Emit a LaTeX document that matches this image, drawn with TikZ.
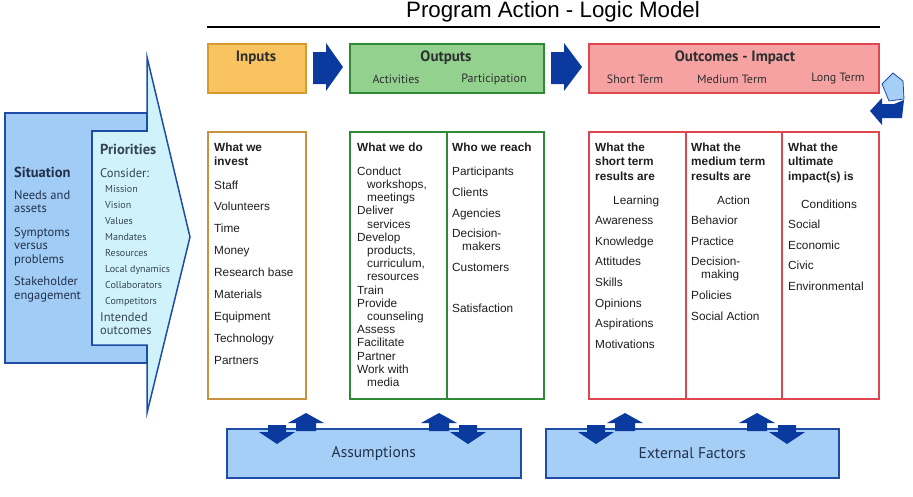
\documentclass[tikz,border=0pt]{standalone}
\usepackage{fontspec}
\setmainfont{Liberation Sans}
\newfontfamily\hdfont{PT Sans}
\usetikzlibrary{positioning}
\definecolor{inputfill}{HTML}{F9C460}
\definecolor{inputedge}{HTML}{D69A30}
\definecolor{investedge}{HTML}{C9923C}
\definecolor{outfill}{HTML}{93D18F}
\definecolor{outedge}{HTML}{2F8A36}
\definecolor{outcfill}{HTML}{F6A1A2}
\definecolor{outcedge}{HTML}{DE4650}
\definecolor{arrowblue}{HTML}{0B3A9E}
\definecolor{effill}{HTML}{A6CFF7}
\definecolor{efedge}{HTML}{1F4CA6}
\definecolor{sitfill}{HTML}{A0CCF5}
\definecolor{prifill}{HTML}{D0F3FB}
\definecolor{hdrtext}{HTML}{2E3030}
\definecolor{sittext}{HTML}{22324A}
\definecolor{pritext}{HTML}{34454F}
\definecolor{itemtext}{HTML}{1E1E1E}

\begin{document}
\begin{tikzpicture}[x=1pt, y=-1pt,
    hdrbox/.style={rectangle, line width=1.6pt, anchor=north west, inner sep=0pt,
        minimum height=49pt},
    colbox/.style={rectangle, draw, line width=1.5pt, anchor=north west, inner sep=0pt,
        minimum height=267pt},
    hdrlbl/.style={font=\hdfont\bfseries\fontsize{15}{17}\selectfont, text=hdrtext},
    sublbl/.style={font=\hdfont\fontsize{12}{14}\selectfont, text=hdrtext},
    items/.style={anchor=north west, align=left, inner sep=0pt, text=itemtext},
    onelbl/.style={anchor=base west, inner sep=0pt},
    effbox/.style={rectangle, draw=efedge, fill=effill, line width=1.6pt, anchor=north west,
        inner sep=0pt, minimum height=49pt, font=\hdfont\fontsize{15.5}{17}\selectfont, text=sittext},
    bigarr/.style={fill=arrowblue}
]
    \useasboundingbox (0,0) rectangle (913,496);

    % title
    \node[font=\fontsize{22.3}{26}\selectfont] (title) at (553,12) {Program Action - Logic Model};
    \draw[line width=2.5pt] (207,27) -- (880,27);

    % situation / priorities arrow
    \filldraw[fill=sitfill, draw=efedge, line width=1.5pt, line join=miter]
        (5,113) -- (147,113) -- (147,131) -- (92,131) -- (92,345) -- (147,345)
        -- (147,363) -- (5,363) -- cycle;
    \filldraw[fill=prifill, draw=efedge, line width=1.5pt, line join=miter]
        (92,131) -- (147,131) -- (147,57) -- (190,237) -- (147,413) -- (147,345)
        -- (92,345) -- cycle;

    \node[onelbl, font=\hdfont\bfseries\fontsize{14.5}{16}\selectfont, text=sittext] (sitlbl) at (14,177) {Situation};
    \node[items, font=\hdfont\fontsize{12.5}{13.5}\selectfont, text=sittext] (sitlist) at (14,190)
        {Needs and\\assets\\[10pt]Symptoms\\versus\\problems\\[9pt]Stakeholder\\engagement};
    \node[onelbl, font=\hdfont\bfseries\fontsize{14.5}{16}\selectfont, text=pritext] (prilbl) at (100,154) {Priorities};
    \node[onelbl, font=\hdfont\fontsize{12.5}{14}\selectfont, text=pritext] (consider) at (100,177) {Consider:};
    \node[items, font=\hdfont\fontsize{10}{16}\selectfont, text=pritext] (prilist) at (105,185)
        {Mission\\Vision\\Values\\Mandates\\Resources\\Local dynamics\\Collaborators\\Competitors};
    \node[items, font=\hdfont\fontsize{12.5}{12.5}\selectfont, text=pritext] (intended) at (100,313)
        {Intended\\outcomes};

    % header boxes
    \node[hdrbox, draw=inputedge, fill=inputfill, minimum width=98pt] (inputs) at (207,43) {};
    \node[hdrbox, draw=outedge, fill=outfill, minimum width=194pt] (outputs) at (349,43) {};
    \node[hdrbox, draw=outcedge, fill=outcfill, minimum width=290pt] (outcomes) at (588,43) {};

    \node[hdrlbl] (inputslbl) at (256,58) {Inputs};
    \node[hdrlbl] (outputslbl) at (446,58) {Outputs};
    \node[sublbl] (activ) at (396,79) {Activities};
    \node[sublbl] (partic) at (494,79) {Participation};
    \node[hdrlbl] (outcomeslbl) at (735,58) {Outcomes - Impact};
    \node[sublbl] (shortt) at (635,79) {Short Term};
    \node[sublbl] (mediumt) at (732,79) {Medium Term};
    \node[sublbl] (longt) at (838,79) {Long Term};

    % block arrows between headers
    \fill[bigarr] (313,52) -- (326,52) -- (326,43) -- (343,67) -- (326,91) -- (326,84) -- (313,84) -- cycle;
    \fill[bigarr] (551,52) -- (564,52) -- (564,43) -- (582,67) -- (564,91) -- (564,84) -- (551,84) -- cycle;

    % turn arrow at the right
    \filldraw[fill=effill, draw=efedge, line width=0.8pt] (882,84) -- (893,73) -- (903,81) -- (904,99) -- (889,101) -- cycle;
    \fill[bigarr] (904,100) -- (902,118) -- (882,118) -- (882,125) -- (870,111) -- (882,98) -- (882,104) -- (894,104) -- cycle;

    % columns
    \node[colbox, draw=investedge, minimum width=98pt] (investcol) at (207,131) {};
    \node[colbox, draw=outedge, minimum width=97pt] (docol) at (349,131) {};
    \node[colbox, draw=outedge, minimum width=97pt] (reachcol) at (446,131) {};
    \node[colbox, draw=outcedge, minimum width=97pt] (shortcol) at (588,131) {};
    \node[colbox, draw=outcedge, minimum width=96pt] (mediumcol) at (685,131) {};
    \node[colbox, draw=outcedge, minimum width=97pt] (longcol) at (781,131) {};

    \node[items, font=\fontsize{11.8}{21.9}\selectfont] (investlist) at (214,142.5)
        {\textbf{What we}\\[-8pt]\textbf{invest}\\[2pt]Staff\\Volunteers\\Time\\Money\\Research base\\Materials\\Equipment\\Technology\\Partners};
    \node[items, font=\fontsize{11.8}{13.2}\selectfont] (dolist) at (357,142.5)
        {\textbf{What we do}\\[10.8pt]Conduct\\\hspace*{10pt}workshops,\\\hspace*{10pt}meetings\\Deliver\\\hspace*{10pt}services\\Develop\\\hspace*{10pt}products,\\\hspace*{10pt}curriculum,\\\hspace*{10pt}resources\\Train\\Provide\\\hspace*{10pt}counseling\\Assess\\Facilitate\\Partner\\Work with\\\hspace*{10pt}media};
    \node[items, font=\fontsize{11.8}{13}\selectfont] (reachlist) at (452,142.5)
        {\textbf{Who we reach}\\[11pt]Participants\\[8pt]Clients\\[8pt]Agencies\\[7pt]Decision-\\\hspace*{10pt}makers\\[8pt]Customers\\[28pt]Satisfaction};
    \node[items, font=\fontsize{11.8}{20.6}\selectfont] (shortlist) at (595,142.5)
        {\textbf{What the}\\[-6pt]\textbf{short term}\\[-6pt]\textbf{results are}\\[3pt]\hspace*{18pt}Learning\\Awareness\\Knowledge\\Attitudes\\Skills\\Opinions\\Aspirations\\Motivations};
    \node[items, font=\fontsize{11.8}{20.6}\selectfont] (mediumlist) at (691,142.5)
        {\textbf{What the}\\[-6pt]\textbf{medium term}\\[-6pt]\textbf{results are}\\[3pt]\hspace*{26pt}Action\\Behavior\\Practice\\Decision-\\[-7.6pt]\hspace*{10pt}making\\Policies\\Social Action};
    \node[items, font=\fontsize{11.8}{20.6}\selectfont] (longlist) at (788,142.5)
        {\textbf{What the}\\[-6pt]\textbf{ultimate}\\[-6pt]\textbf{impact(s) is}\\[7pt]\hspace*{13pt}Conditions\\Social\\Economic\\Civic\\Environmental};

    % assumptions and external factors
    \node[effbox, minimum width=294pt] (assume) at (226,428) {Assumptions};
    \node[effbox, minimum width=293pt] (extern) at (545,428) {External Factors};

    \fill[bigarr] (296,431) -- (296,423) -- (288,423) -- (306,413) -- (324,423) -- (316,423) -- (316,431) -- cycle;
    \fill[bigarr] (268,425) -- (268,432) -- (259,432) -- (277,444) -- (295,432) -- (286,432) -- (286,425) -- cycle;
    \fill[bigarr] (429,431) -- (429,423) -- (421,423) -- (439,413) -- (457,423) -- (449,423) -- (449,431) -- cycle;
    \fill[bigarr] (459,425) -- (459,432) -- (450,432) -- (468,444) -- (486,432) -- (477,432) -- (477,425) -- cycle;
    \fill[bigarr] (615,431) -- (615,423) -- (607,423) -- (625,413) -- (643,423) -- (635,423) -- (635,431) -- cycle;
    \fill[bigarr] (587,425) -- (587,432) -- (578,432) -- (596,444) -- (614,432) -- (605,432) -- (605,425) -- cycle;
    \fill[bigarr] (747,431) -- (747,423) -- (739,423) -- (757,413) -- (775,423) -- (767,423) -- (767,431) -- cycle;
    \fill[bigarr] (778,425) -- (778,432) -- (769,432) -- (787,444) -- (805,432) -- (796,432) -- (796,425) -- cycle;
\end{tikzpicture}
\end{document}
